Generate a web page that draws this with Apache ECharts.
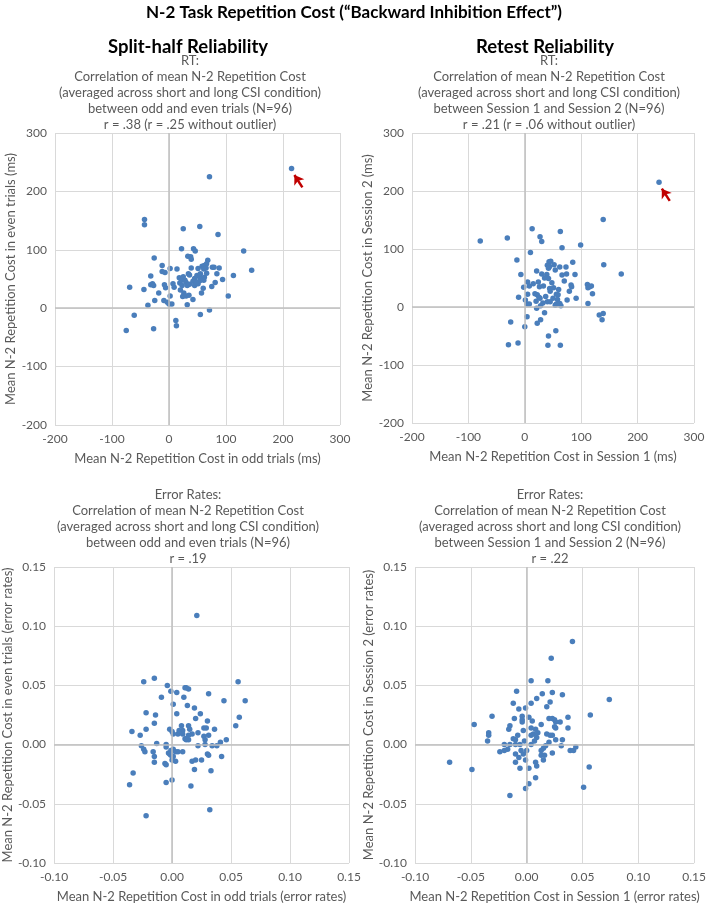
<!DOCTYPE html>
<html>
<head>
<meta charset="utf-8">
<script src="https://cdn.jsdelivr.net/npm/echarts@6/dist/echarts.min.js"></script>
<style>
html,body{margin:0;padding:0;background:#fff;}
#chart{width:709px;height:906px;}
</style>
</head>
<body>
<div id="chart"></div>
<script>
// ---------- DATA ----------
// Split-half RT (ms): odd trials (x) vs even trials (y)
const splitRtOdd  = [-43,-43,25,54,86,22,43,46,131,-26,33,38,39,68,66,-12,2,14,39,51,58,62,65,61,76,79,88,145,-12,-7,-32,18,25,22,34,36,45,49,54,55,58,62,61,84,94,113,-69,-44,-32,-29,-27,-8,-6,7,9,19,23,30,32,36,42,45,51,54,60,57,75,81,-18,2,20,26,24,30,35,42,104,-25,-9,-3,0,5,-37,32,71,55,-61,-75,-27,12,13,215,71,48,28,66];
const splitRtEven = [152,143,136,140,126,102,102,98,98,86,89,88,84,82,76,73,68,67,69,68,72,73,69,67,70,70,69,65,63,61,55,52,54,48,59,57,51,56,53,59,51,53,48,59,49,56,36,32,40,42,39,40,35,42,36,43,39,44,39,41,46,39,42,47,34,26,37,44,26,21,31,26,20,21,22,15,21,13,13,10,7,7,5,6,-3,-11,-12,-38,-35,-21,-30,239,225,44,48,60];
// Retest RT (ms): Session 1 (x) vs Session 2 (y)
const retestRtS1 = [139,-79,-31,13,63,27,30,99,66,10,-14,140,43,46,40,42,52,44,62,73,85,21,30,39,42,54,66,74,89,-7,171,5,8,-2,24,26,33,48,44,51,70,82,83,111,115,118,112,120,-11,5,18,22,25,37,40,45,56,59,58,62,64,54,56,79,75,91,1,4,8,20,27,32,112,21,35,132,139,137,4,-25,28,22,0,55,42,-29,-12,41,63,238,45,35,60,15,50,28];
const retestRtS2 = [151,114,119,135,130,121,113,107,102,94,81,73,78,79,72,67,73,70,69,69,77,62,57,56,49,64,55,57,56,56,57,43,36,34,43,35,36,42,32,33,45,38,35,39,35,36,33,23,17,22,23,21,17,18,9,9,22,21,13,6,2,3,5,27,12,15,12,5,5,10,15,7,6,-2,-10,-14,-11,-22,-17,-26,-22,-28,-34,-41,-50,-65,-62,-66,-66,215,27,50,30,40,15,2];
// Split-half error rates: odd trials (x) vs even trials (y)
const splitErrOdd  = [-0.024,-0.004,0.056,0.011,0.012,0.014,-0.001,0.004,-0.009,0.010,0.031,0.044,0.062,0.001,0.013,-0.022,-0.014,0.004,0.019,0.024,0.020,-0.015,0.030,0.057,0.054,-0.034,-0.027,-0.022,-0.002,0.000,0.001,0.005,0.008,0.009,0.009,0.014,0.015,0.017,0.014,0.011,0.012,0.014,0.027,0.029,0.031,0.027,0.028,0.036,0.046,0.041,0.038,0.034,0.022,-0.013,-0.026,-0.024,-0.023,-0.005,-0.005,-0.016,-0.015,-0.015,-0.003,-0.001,0.001,0.003,0.005,-0.001,0.001,0.003,0.000,-0.006,-0.005,0.009,0.030,0.031,0.042,0.017,0.020,0.025,0.019,0.033,-0.033,-0.036,-0.005,0.000,0.016,0.032,-0.022,0.021,-0.015,0.006,0.012,-0.002,0.022,0.028];
const splitErrEven = [0.053,0.050,0.053,0.048,0.048,0.047,0.045,0.044,0.040,0.040,0.043,0.037,0.037,0.034,0.033,0.027,0.025,0.026,0.031,0.026,0.022,0.018,0.020,0.023,0.016,0.011,0.008,0.013,0.013,0.011,0.009,0.009,0.016,0.012,0.009,0.016,0.013,0.009,0.008,0.005,0.004,0.004,0.014,0.014,0.008,0.007,0.004,0.013,0.004,0.002,-0.001,-0.001,-0.001,0.001,-0.001,-0.004,-0.006,0.000,-0.002,-0.006,-0.010,-0.015,-0.007,-0.005,-0.004,-0.006,-0.006,-0.009,-0.010,-0.014,-0.013,-0.016,-0.017,-0.006,-0.008,-0.009,-0.010,-0.014,-0.013,-0.013,-0.021,-0.022,-0.024,-0.034,-0.032,-0.030,-0.035,-0.055,-0.060,0.109,0.056,0.012,0.005,-0.008,0.010,0.000];
// Retest error rates: Session 1 (x) vs Session 2 (y)
const retestErrS1 = [0.004,0.019,-0.009,0.014,0.023,0.032,0.009,0.004,-0.012,0.021,0.074,-0.007,-0.001,0.018,-0.031,-0.004,-0.004,-0.004,-0.011,0.002,0.057,-0.047,-0.015,-0.016,-0.034,-0.034,-0.035,0.004,0.008,0.004,0.006,0.013,0.020,0.023,0.025,0.026,0.026,0.030,0.037,0.037,0.018,0.021,0.023,0.009,0.007,0.004,-0.002,-0.012,-0.010,-0.010,0.026,0.032,0.031,0.017,-0.020,-0.015,-0.006,-0.024,-0.020,-0.017,-0.005,-0.003,0.013,0.013,0.016,0.023,0.039,0.042,0.044,-0.007,-0.010,-0.001,0.008,0.009,0.015,-0.006,0.002,-0.069,-0.049,0.056,0.008,0.002,-0.001,0.051,-0.015,0.041,0.022,0.010,-0.008,0.015,0.025,0.000,-0.003,0.020,0.005,-0.010];
const retestErrS2 = [0.054,0.054,0.045,0.043,0.044,0.042,0.039,0.035,0.035,0.036,0.038,0.030,0.031,0.032,0.024,0.024,0.021,0.019,0.022,0.023,0.025,0.017,0.016,0.013,0.010,0.008,0.003,0.014,0.013,0.008,0.009,0.017,0.022,0.022,0.021,0.019,0.014,0.019,0.023,0.014,0.009,0.008,0.008,0.006,0.003,0.000,0.003,0.005,0.004,0.000,0.004,0.004,-0.001,-0.001,0.000,0.000,0.000,-0.006,-0.005,-0.004,-0.005,-0.008,-0.005,-0.009,-0.009,-0.007,-0.005,-0.005,-0.002,-0.011,-0.015,-0.013,-0.015,-0.018,-0.013,-0.020,-0.020,-0.015,-0.021,-0.019,-0.028,-0.033,-0.037,-0.036,-0.043,0.087,0.073,0.010,0.008,-0.003,0.015,-0.005,0.012,0.002,0.020,-0.008];

// Outliers flagged with red arrows (RT panels)
const splitOutlier  = [215, 239];
const retestOutlier = [238, 215];

const rtTicks  = {min:-200, max:300, interval:100};
const errTicks = {min:-0.10, max:0.15, interval:0.05};

// ---------- TEXT ----------
const mainTitle = 'N-2 Task Repetition Cost (\u201CBackward Inhibition Effect\u201D)';
const leftHead = 'Split-half Reliability';
const rightHead = 'Retest Reliability';
const tlSub = ['RT:','Correlation of mean N-2 Repetition Cost','(averaged across short and long CSI condition)','between odd and even trials (N=96)','r = .38 (r = .25 without outlier)'];
const trSub = ['RT:','Correlation of mean N-2 Repetition Cost','(averaged across short and long CSI condition)','between Session 1 and Session 2 (N=96)','r = .21 (r = .06 without outlier)'];
const blSub = ['Error Rates:','Correlation of mean N-2 Repetition Cost','(averaged across short and long CSI condition)','between odd and even trials (N=96)','r = .19'];
const brSub = ['Error Rates:','Correlation of mean N-2 Repetition Cost','(averaged across short and long CSI condition)','between Session 1 and Session 2 (N=96)','r = .22'];
const xNames = ['Mean N-2 Repetition Cost in odd trials (ms)','Mean N-2 Repetition Cost in Session 1 (ms)','Mean N-2 Repetition Cost in odd trials (error rates)','Mean N-2 Repetition Cost in Session 1 (error rates)'];
const yNames = ['Mean N-2 Repetition Cost in even trials (ms)','Mean N-2 Repetition Cost in Session 2 (ms)','Mean N-2 Repetition Cost in even trials (error rates)','Mean N-2 Repetition Cost in Session 2 (error rates)'];

// ---------- CHART ----------
const FONT = 'Lato, "Open Sans", sans-serif';
const GREY = '#595959';
const BLUE = '#4A7EBB';
const zip = (a,b) => a.map((v,i)=>[v,b[i]]);

const grids = [
  {left:55, top:133, width:285, height:292},
  {left:412, top:133, width:282, height:290},
  {left:53, top:567, width:296, height:296},
  {left:415, top:567, width:283, height:296}
];
const ticks = [rtTicks, rtTicks, errTicks, errTicks];
const fmt = [v=>String(v), v=>String(v), v=>v.toFixed(2), v=>v.toFixed(2)];
const yGap = [28, 26, 32, 32];

function axisBase(i, name, isY){
  return {
    type:'value', gridIndex:i, min:ticks[i].min, max:ticks[i].max, interval:ticks[i].interval,
    name:name, nameLocation:'middle', nameGap: isY ? yGap[i] : 27,
    nameTextStyle:{fontFamily:FONT, fontSize:13, color:GREY},
    axisLine:{show:false, onZero:false}, axisTick:{show:false},
    axisLabel:{fontFamily:FONT, fontSize:12, color:GREY, margin:8, formatter:fmt[i]},
    splitLine:{show:true, lineStyle:{color:'#d9d9d9', width:1}}
  };
}

const series = [];
const datasets = [zip(splitRtOdd,splitRtEven), zip(retestRtS1,retestRtS2), zip(splitErrOdd,splitErrEven), zip(retestErrS1,retestErrS2)];
datasets.forEach((d,i)=>{
  series.push({
    type:'scatter', xAxisIndex:i, yAxisIndex:i, data:[], z:1, silent:true,
    markLine:{silent:true, symbol:'none', label:{show:false}, animation:false,
      lineStyle:{color:'#bfbfbf', width:1.5, type:'solid'},
      data:[{xAxis:0},{yAxis:0}]}
  });
  series.push({
    type:'scatter', xAxisIndex:i, yAxisIndex:i, data:d, z:3,
    symbol:'circle', symbolSize:5.5, itemStyle:{color:BLUE, opacity:1}
  });
});
[[0, splitOutlier],[1, retestOutlier]].forEach(([i,o])=>{
  series.push({
    type:'scatter', xAxisIndex:i, yAxisIndex:i, data:[], z:4, silent:true,
    markLine:{silent:true, animation:false, label:{show:false},
      symbol:['none','arrow'], symbolSize:9,
      lineStyle:{color:'#c00000', width:2.5, type:'solid'},
      data:[[{coord:[o[0]+19, o[1]-32]},{coord:[o[0]+5, o[1]-11]}]]}
  });
});

function subTitle(lines, cx, top){
  return {text:lines.join('\n'), left:cx, top:top, padding:0, textAlign:'center',
    textStyle:{fontFamily:FONT, fontSize:13, fontWeight:'normal', color:GREY, lineHeight:16}};
}

const option = {
  animation:false,
  backgroundColor:'#ffffff',
  title:[
    {text:mainTitle, left:354, top:4, padding:0, textAlign:'center',
      textStyle:{fontFamily:FONT, fontSize:17, fontWeight:'bold', color:'#000'}},
    {text:leftHead, left:188, top:38, padding:0, textAlign:'center',
      textStyle:{fontFamily:FONT, fontSize:18.5, fontWeight:'bold', color:'#000'}},
    {text:rightHead, left:545, top:38, padding:0, textAlign:'center',
      textStyle:{fontFamily:FONT, fontSize:18.5, fontWeight:'bold', color:'#000'}},
    subTitle(tlSub, 190, 53),
    subTitle(trSub, 549, 53),
    subTitle(blSub, 188, 487),
    subTitle(brSub, 550, 487)
  ],
  grid: grids,
  xAxis: grids.map((g,i)=>axisBase(i, xNames[i], false)),
  yAxis: grids.map((g,i)=>axisBase(i, yNames[i], true)),
  series: series
};

const chart = echarts.init(document.getElementById('chart'), null, {renderer:'canvas'});
chart.setOption(option);
</script>
</body>
</html>
